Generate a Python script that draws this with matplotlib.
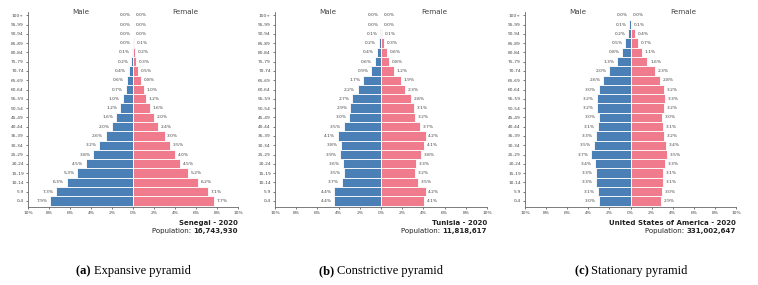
import numpy as np
import matplotlib
matplotlib.use('Agg')
import matplotlib.pyplot as plt

# age groups, bottom (0-4) to top (100+)
ages = ['0-4', '5-9', '10-14', '15-19', '20-24', '25-29', '30-34', '35-39', '40-44',
        '45-49', '50-54', '55-59', '60-64', '65-69', '70-74', '75-79', '80-84',
        '85-89', '90-94', '95-99', '100+']

senegal_male = [7.9, 7.3, 6.3, 5.3, 4.5, 3.8, 3.2, 2.6, 2.0, 1.6, 1.2, 1.0, 0.7, 0.6,
                0.4, 0.2, 0.1, 0.0, 0.0, 0.0, 0.0]
senegal_female = [7.7, 7.1, 6.2, 5.2, 4.5, 4.0, 3.5, 3.0, 2.4, 2.0, 1.6, 1.2, 1.0, 0.8,
                  0.5, 0.3, 0.2, 0.1, 0.0, 0.0, 0.0]

tunisia_male = [4.4, 4.4, 3.7, 3.5, 3.6, 3.9, 3.8, 4.1, 3.5, 3.0, 2.9, 2.7, 2.2, 1.7,
                0.9, 0.6, 0.4, 0.2, 0.1, 0.0, 0.0]
tunisia_female = [4.1, 4.2, 3.5, 3.2, 3.3, 3.8, 4.1, 4.2, 3.7, 3.2, 3.1, 2.8, 2.3, 1.9,
                  1.2, 0.8, 0.6, 0.3, 0.1, 0.0, 0.0]

usa_male = [3.0, 3.1, 3.3, 3.3, 3.4, 3.7, 3.5, 3.3, 3.1, 3.0, 3.2, 3.2, 3.0, 2.6,
            2.0, 1.3, 0.8, 0.5, 0.2, 0.1, 0.0]
usa_female = [2.9, 3.0, 3.1, 3.1, 3.3, 3.5, 3.4, 3.2, 3.1, 3.0, 3.2, 3.3, 3.2, 2.8,
              2.3, 1.6, 1.1, 0.7, 0.4, 0.1, 0.0]

countries = ['Senegal - 2020', 'Tunisia - 2020', 'United States of America - 2020']
populations = ['16,743,930', '11,818,617', '331,002,647']
letters = ['(a)', '(b)', '(c)']
captions = ['Expansive pyramid', 'Constrictive pyramid', 'Stationary pyramid']

xticks = [-10, -8, -6, -4, -2, 0, 2, 4, 6, 8, 10]

BLUE = '#4a80b6'
PINK = '#ef7b8c'
GREY = '#444444'

W, H = 758, 285
fig = plt.figure(figsize=(W / 100, H / 100), dpi=100)

# pixel positions of the plot areas (left, right)
panels = [(28, 238), (275, 487), (525, 736)]
top_px, bottom_px = 12, 207

data = [(senegal_male, senegal_female), (tunisia_male, tunisia_female), (usa_male, usa_female)]

for i, (x0, x1) in enumerate(panels):
    ax = fig.add_axes([x0 / W, 1 - bottom_px / H, (x1 - x0) / W, (bottom_px - top_px) / H])
    male, female = data[i]
    y = np.arange(len(ages))
    ax.barh(y, -np.array(male), height=1.0, color=BLUE, edgecolor='white', linewidth=0.6)
    ax.barh(y, female, height=1.0, color=PINK, edgecolor='white', linewidth=0.6)

    for yy, m, f in zip(y, male, female):
        ax.text(-m - 0.25, yy, f'{m:.1f}%', ha='right', va='center', fontsize=3.2, color=GREY)
        ax.text(f + 0.25, yy, f'{f:.1f}%', ha='left', va='center', fontsize=3.2, color=GREY)

    ax.set_xlim(-10, 10)
    ax.set_ylim(-0.65, 20.35)
    ax.set_xticks(xticks)
    ax.set_xticklabels([f'{abs(t)}%' for t in xticks])
    ax.set_yticks(y)
    ax.set_yticklabels(ages)
    ax.tick_params(labelsize=3.2, colors=GREY, length=1.5, width=0.5, pad=1.5)
    for s in ['top', 'right']:
        ax.spines[s].set_visible(False)
    for s in ['left', 'bottom']:
        ax.spines[s].set_linewidth(0.6)
        ax.spines[s].set_color('#666666')

    ax.text(-5, 20.3, 'Male', ha='center', va='center', fontsize=5.2, color=GREY)
    ax.text(5, 20.3, 'Female', ha='center', va='center', fontsize=5.2, color=GREY)

    # country and population under the axis
    fig.text(x1 / W, 1 - 223 / H, countries[i], ha='right', va='center',
             fontsize=5, fontweight='bold', color='#222222')
    num = fig.text(x1 / W, 1 - 231 / H, populations[i], ha='right', va='center',
                   fontsize=5, fontweight='bold', color='#222222')
    ax.annotate('Population: ', xy=(0, 0.5), xycoords=num, ha='right', va='center',
                fontsize=5, color='#222222')

    # caption
    cx = (x0 + x1) / 2 / W
    cap = fig.text(cx + 0.012, 1 - 271 / H, captions[i], ha='center', va='center',
                   fontsize=9, family='Liberation Serif', color='black')
    ax.annotate(letters[i] + ' ', xy=(0, 0.5), xycoords=cap, ha='right', va='center',
                fontsize=9, family='Liberation Serif', fontweight='bold', color='black')

fig.savefig('out.png', dpi=100)
